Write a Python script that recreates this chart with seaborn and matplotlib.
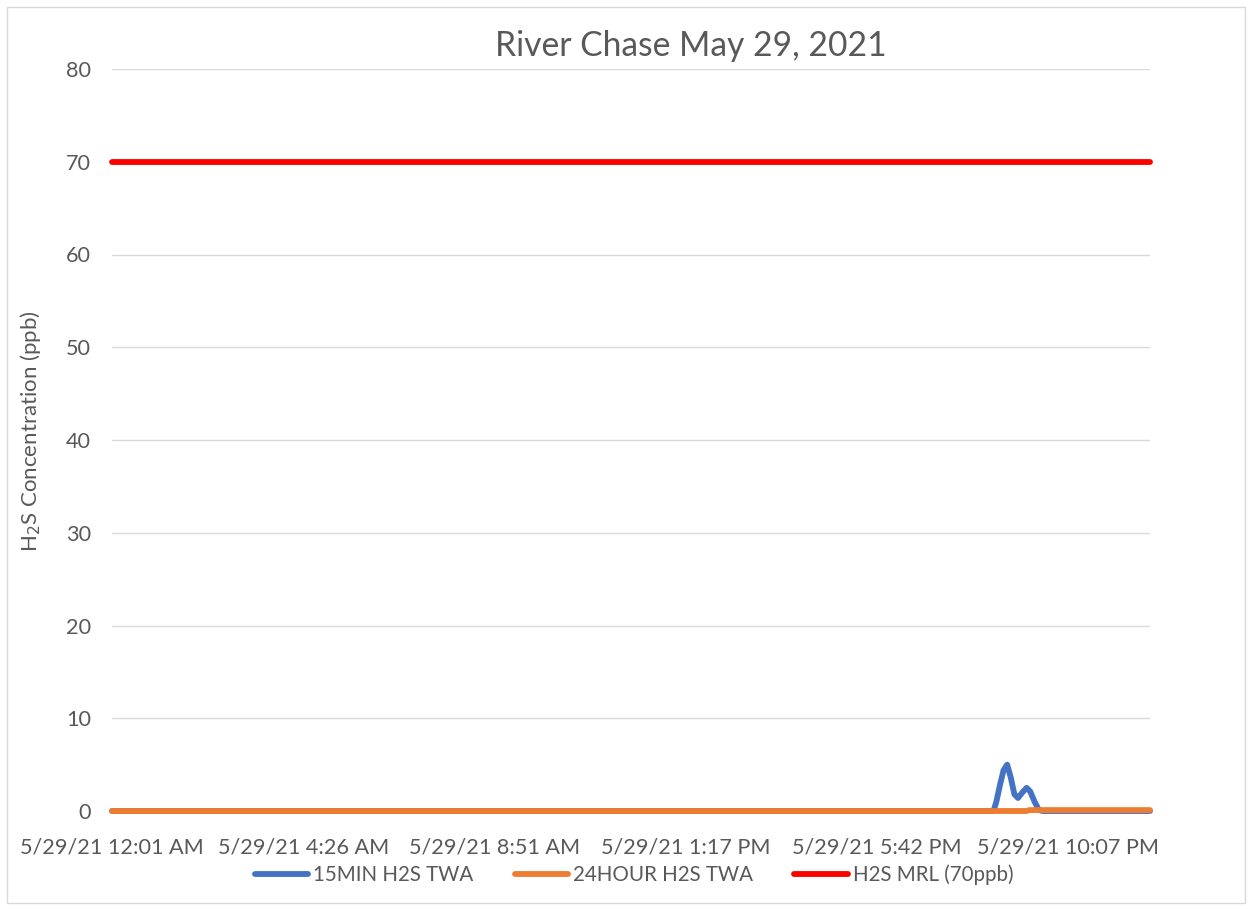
import matplotlib
matplotlib.use("Agg")
import matplotlib.pyplot as plt
import seaborn as sns
import pandas as pd
from matplotlib.patches import Rectangle
from matplotlib.lines import Line2D

# ---- data (minutes after 5/29/21 12:01 AM) ----
blue_minutes = [0, 1222, 1226, 1231, 1236, 1241, 1246, 1251, 1256, 1262, 1268, 1273, 1279, 1285, 1290, 1439]
blue_values = [0, 0, 1.0, 2.8, 4.4, 5.0, 3.6, 1.8, 1.4, 2.0, 2.5, 2.1, 1.0, 0.1, 0, 0]
orange_minutes = [0, 1268, 1272, 1439]
orange_values = [0, 0, 0.1, 0.1]
red_minutes = [0, 1439]
red_values = [70, 70]

tick_minutes = [0, 265, 530, 795, 1060, 1325]
tick_labels = ["5/29/21 12:01 AM", "5/29/21 4:26 AM", "5/29/21 8:51 AM",
               "5/29/21 1:17 PM", "5/29/21 5:42 PM", "5/29/21 10:07 PM"]
series_names = ["15MIN H2S TWA", "24HOUR H2S TWA", "H2S MRL (70ppb)"]
colors = ["#4472C4", "#ED7D31", "#FF0000"]

df = pd.concat([
    pd.DataFrame({"minute": blue_minutes, "value": blue_values, "series": series_names[0]}),
    pd.DataFrame({"minute": orange_minutes, "value": orange_values, "series": series_names[1]}),
    pd.DataFrame({"minute": red_minutes, "value": red_values, "series": series_names[2]}),
])

sns.set_style("white")
plt.rcParams["font.family"] = ["Lato", "DejaVu Sans"]
text_color = "#595959"
LW = 4.2

W, H = 1253, 909
fig = plt.figure(figsize=(W/100, H/100), dpi=100)
ax = fig.add_axes([112/W, 1 - 811/H, (1150-112)/W, (811-69)/H])

sns.lineplot(data=df, x="minute", y="value", hue="series", palette=colors,
             hue_order=series_names, linewidth=LW, ax=ax, legend=False,
             estimator=None, sort=True)
for i, ln in enumerate(ax.lines):
    ln.set_linewidth(LW)
    ln.set_solid_capstyle("round")
    ln.set_solid_joinstyle("round")
    ln.set_clip_on(False)
    ln.set_zorder(3 + i * 0.1)

ax.set_xlim(0, 1439)
ax.set_ylim(0, 80)
ax.set_yticks(range(0, 81, 10))
ax.set_xticks(tick_minutes)
ax.set_xticklabels(tick_labels)
ax.tick_params(axis="both", colors=text_color, labelsize=15.6, length=0)
ax.tick_params(axis="x", pad=19)
ax.tick_params(axis="y", pad=15)
ax.grid(axis="y", color="#D9D9D9", linewidth=1)
ax.set_axisbelow(True)
for s in ax.spines.values():
    s.set_visible(False)

ax.set_xlabel("")
ax.set_ylabel("H$_2$S Concentration (ppb)", color=text_color, fontsize=16)
ax.yaxis.set_label_coords((43 - 112) / (1150 - 112), (811 - 431) / (811 - 69))

fig.text(691/W, 1 - 56/H, "River Chase May 29, 2021", color=text_color,
         fontsize=24.2, ha="center", va="baseline")

handles = [Line2D([0], [0], color=c, lw=LW, solid_capstyle="round") for c in colors]
leg = fig.legend(handles, series_names, loc="center", bbox_to_anchor=(634/W, 1 - 875/H),
                 ncol=3, frameon=False, fontsize=14.8, handlelength=2.6, columnspacing=2.0,
                 handletextpad=0.25)
for t in leg.get_texts():
    t.set_color(text_color)

fig.patches.append(Rectangle((7/W, 1 - 903/H), (1245-7)/W, (903-7)/H,
                             transform=fig.transFigure, fill=False,
                             edgecolor="#D9D9D9", linewidth=1))

fig.savefig("out.png", dpi=100)
